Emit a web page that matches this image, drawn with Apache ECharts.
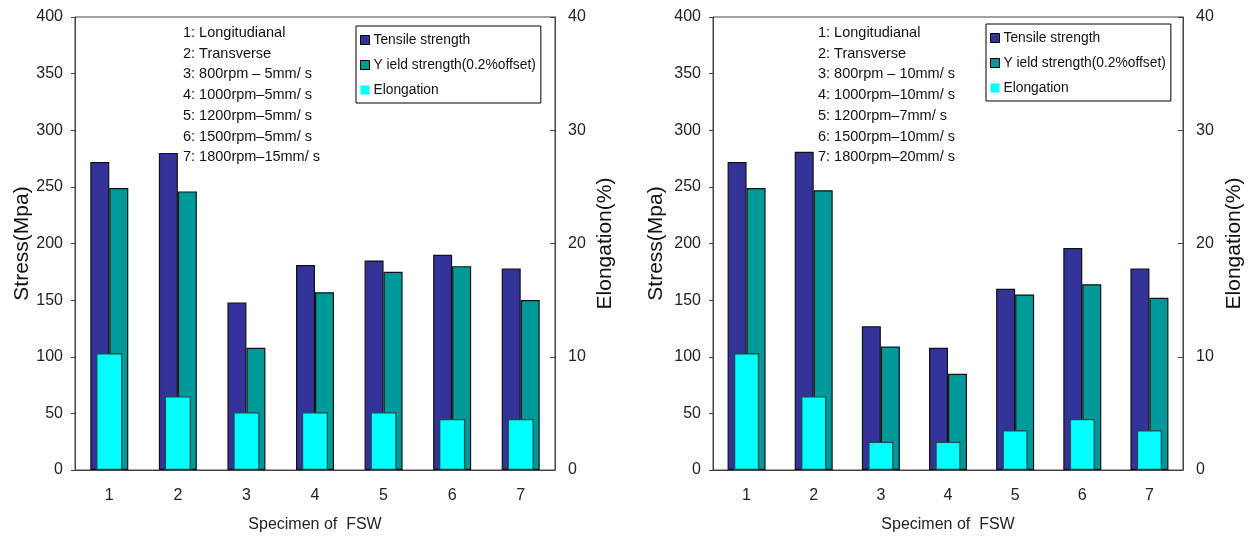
<!DOCTYPE html>
<html>
<head>
<meta charset="utf-8">
<script src="https://cdn.jsdelivr.net/npm/echarts@6/dist/echarts.min.js"></script>
<style>
html,body{margin:0;padding:0;background:#fff;}
#chart{width:1250px;height:538px;}
</style>
</head>
<body>
<div id="chart"></div>
<script>
const categories = ['1', '2', '3', '4', '5', '6', '7'];
const stressTicks = [0, 50, 100, 150, 200, 250, 300, 350, 400];
const elongTicks = [0, 10, 20, 30, 40];
const seriesNames = ['Tensile strength', 'Y ield strength(0.2%offset)', 'Elongation'];

// left chart
const tensileA = [272, 280, 148, 181, 185, 190, 178];
const yieldA = [249, 246, 108, 157, 175, 180, 150];
const elongA = [10.3, 6.5, 5.1, 5.1, 5.1, 4.5, 4.5];
const notesA = ['1: Longitudianal', '2: Transverse', '3: 800rpm \u2013 5mm/ s', '4: 1000rpm\u20135mm/ s', '5: 1200rpm\u20135mm/ s', '6: 1500rpm\u20135mm/ s', '7: 1800rpm\u201315mm/ s'];

// right chart
const tensileB = [272, 281, 127, 108, 160, 196, 178];
const yieldB = [249, 247, 109, 85, 155, 164, 152];
const elongB = [10.3, 6.5, 2.5, 2.5, 3.5, 4.5, 3.5];
const notesB = ['1: Longitudianal', '2: Transverse', '3: 800rpm \u2013 10mm/ s', '4: 1000rpm\u201310mm/ s', '5: 1200rpm\u20137mm/ s', '6: 1500rpm\u201310mm/ s', '7: 1800rpm\u201320mm/ s'];

const FONT = "'Liberation Sans', Arial, sans-serif";
const colors = ['#333399', '#009999', '#00ffff'];
const axisColor = '#444';

const chart = echarts.init(document.getElementById('chart'));

const grids = [
  {left: 75, right: 695, top: 17, bottom: 68},
  {left: 713, right: 67, top: 17, bottom: 68}
];
const panels = [
  {tensile: tensileA, yld: yieldA, elong: elongA, notes: notesA, noteX: 183, legendX: 356, legendY: 26, leftGap: 39, rightGap: 40, barW: 19, elW: 26},
  {tensile: tensileB, yld: yieldB, elong: elongB, notes: notesB, noteX: 818, legendX: 986, legendY: 24, leftGap: 46, rightGap: 41, barW: 19, elW: 25}
];

const xAxis = [], yAxis = [], series = [], legend = [], graphic = [];
panels.forEach((p, i) => {
  xAxis.push({
    type: 'category', gridIndex: i, data: categories,
    name: 'Specimen of  FSW', nameLocation: 'middle', nameGap: 47,
    nameTextStyle: {fontFamily: FONT, fontSize: 16, color: '#222'},
    axisLine: {lineStyle: {color: axisColor, width: 1}},
    axisTick: {inside: true, length: 5, lineStyle: {color: axisColor}},
    axisLabel: {fontFamily: FONT, fontSize: 16, color: '#222', margin: 18}
  });
  xAxis.push({
    type: 'category', gridIndex: i, data: categories, show: false
  });
  yAxis.push({
    type: 'value', gridIndex: i, min: stressTicks[0], max: stressTicks[stressTicks.length - 1], interval: 50,
    name: 'Stress(Mpa)', nameLocation: 'middle', nameGap: p.leftGap, nameRotate: 90,
    nameTextStyle: {fontFamily: FONT, fontSize: 21, color: '#111'},
    axisLine: {show: true, lineStyle: {color: axisColor, width: 1}},
    axisTick: {show: true, length: 4, lineStyle: {color: axisColor}},
    axisLabel: {fontFamily: FONT, fontSize: 16, color: '#222', margin: 12},
    splitLine: {show: false}
  });
  yAxis.push({
    type: 'value', gridIndex: i, position: 'right', min: elongTicks[0], max: elongTicks[elongTicks.length - 1], interval: 10,
    name: 'Elongation(%)', nameLocation: 'middle', nameGap: p.rightGap, nameRotate: 90,
    nameTextStyle: {fontFamily: FONT, fontSize: 21, color: '#111'},
    axisLine: {show: true, lineStyle: {color: axisColor, width: 1}},
    axisTick: {show: true, inside: true, length: 5, lineStyle: {color: axisColor}},
    axisLabel: {fontFamily: FONT, fontSize: 16, color: '#222', margin: 13},
    splitLine: {show: false}
  });
  const bx = i * 2, by = i * 2;
  series.push({
    type: 'bar', name: seriesNames[0], xAxisIndex: bx, yAxisIndex: by, data: p.tensile,
    barWidth: p.barW, barGap: '0%',
    itemStyle: {color: colors[0], borderColor: '#111', borderWidth: 1.2}
  });
  series.push({
    type: 'bar', name: seriesNames[1], xAxisIndex: bx, yAxisIndex: by, data: p.yld,
    barWidth: p.barW, barGap: '0%',
    itemStyle: {color: colors[1], borderColor: '#111', borderWidth: 1.2}
  });
  series.push({
    type: 'bar', name: seriesNames[2], xAxisIndex: bx + 1, yAxisIndex: by + 1, data: p.elong,
    barWidth: p.elW, z: 5,
    itemStyle: {color: colors[2], borderColor: '#1a4a4a', borderWidth: 1.2}
  });
  legend.push({
    orient: 'vertical', left: p.legendX, top: p.legendY,
    padding: [7, 5, 6, 4], itemGap: 11, itemWidth: 9, itemHeight: 9,
    borderColor: '#000', borderWidth: 1, backgroundColor: '#fff',
    icon: 'rect', selectedMode: false,
    textStyle: {fontFamily: FONT, fontSize: 13.8, color: '#111', padding: [0, 0, 0, -1]},
    data: [
      {name: seriesNames[0], itemStyle: {borderColor: '#000', borderWidth: 1}},
      {name: seriesNames[1], itemStyle: {borderColor: '#000', borderWidth: 1}},
      {name: seriesNames[2], itemStyle: {borderWidth: 0}}
    ]
  });
  p.notes.forEach((t, k) => {
    graphic.push({
      type: 'text', x: p.noteX, y: 33 + k * 20.7, z: 10,
      style: {text: t, font: '14.5px ' + FONT, fill: '#111', verticalAlign: 'middle', align: 'left'}
    });
  });
});

const grid = grids.map(g => Object.assign({show: true, borderColor: axisColor, borderWidth: 1, backgroundColor: 'transparent'}, g));

chart.setOption({
  animation: false,
  backgroundColor: '#fff',
  color: colors,
  grid: grid,
  xAxis: xAxis,
  yAxis: yAxis,
  legend: legend,
  series: series,
  graphic: graphic
});
</script>
</body>
</html>
